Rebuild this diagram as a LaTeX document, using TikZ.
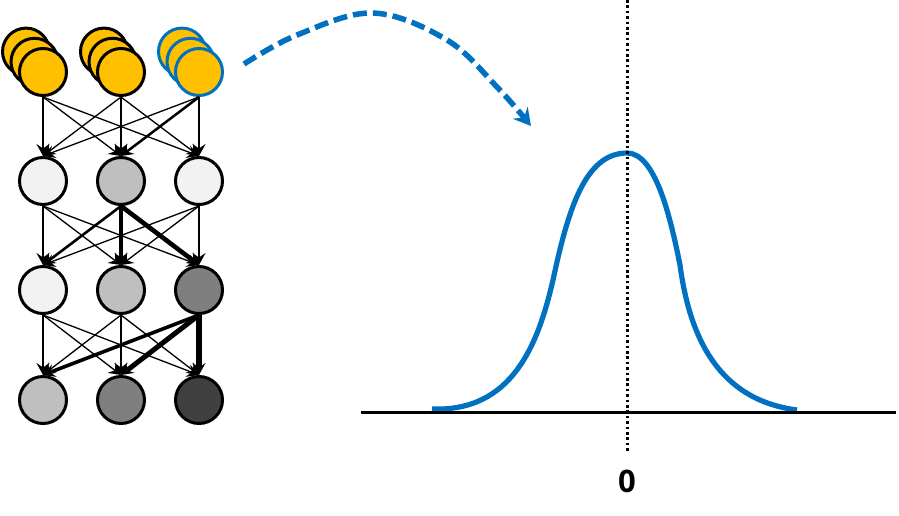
\documentclass[tikz,border=0pt]{standalone}
\usepackage{fontspec}
\setsansfont{Open Sans}
\usetikzlibrary{arrows.meta}
\definecolor{gold}{HTML}{FFC000}
\definecolor{msblue}{HTML}{0070C0}
\definecolor{shadeA}{HTML}{F2F2F2}
\definecolor{shadeB}{HTML}{BFBFBF}
\definecolor{shadeC}{HTML}{7F7F7F}
\definecolor{shadeD}{HTML}{404040}
\tikzset{
  neuron/.style={circle, draw=black, line width=3pt, minimum size=47pt, inner sep=0pt},
  link/.style={-{Stealth[length=12pt,width=13pt,inset=4.5pt]}, line width=#1},
  link/.default=1.3pt,
}
\begin{document}
\begin{tikzpicture}[x=1pt, y=-1pt]
\useasboundingbox (0,0) rectangle (899,515);
% input stacks
\foreach \i/\x/\c in {1/43/black, 2/121/black, 3/199/msblue} {
  \foreach \d in {17, 8.5}
    \node[neuron, fill=gold, draw=\c] at (\x-\d, 72-\d*1.2) {};
  \node[neuron, fill=gold, draw=\c] (in\i) at (\x,72) {};
}
% hidden and output layers
\foreach \r/\y/\fa/\fb/\fc in {1/181/shadeA/shadeB/shadeA, 2/290/shadeA/shadeB/shadeC, 3/400/shadeB/shadeC/shadeD} {
  \node[neuron, fill=\fa] (h\r1) at (43,\y) {};
  \node[neuron, fill=\fb] (h\r2) at (121,\y) {};
  \node[neuron, fill=\fc] (h\r3) at (199,\y) {};
}
% input -> first layer
\foreach \s/\t/\w in {1/1/1.3pt, 1/2/1.3pt, 1/3/1.3pt, 2/1/1.3pt, 2/2/1.3pt, 2/3/1.3pt, 3/1/1.3pt, 3/2/2.5pt, 3/3/2.5pt}
  \draw[link=\w] (in\s.south) -- (h1\t.north);
% first -> second layer
\foreach \s/\t/\w in {1/1/1.3pt, 1/2/1.3pt, 1/3/1.3pt, 2/1/2.6pt, 2/2/3.8pt, 2/3/4.6pt, 3/1/1.3pt, 3/2/1.3pt, 3/3/1.3pt}
  \draw[link=\w] (h1\s.south) -- (h2\t.north);
% second -> third layer
\foreach \s/\t/\w in {1/1/1.3pt, 1/2/1.3pt, 1/3/1.3pt, 2/1/1.3pt, 2/2/1.3pt, 2/3/1.3pt, 3/1/3.6pt, 3/2/5pt, 3/3/6pt}
  \draw[link=\w] (h2\s.south) -- (h3\t.north);

% dashed arrow to the distribution
\draw[msblue, line width=5.5pt, dash pattern=on 14pt off 6pt,
  -{Stealth[length=17pt,width=19pt,inset=6pt]}]
  plot[smooth, tension=0.6] coordinates {(244,64) (297,35) (373,13) (447,40) (497,87) (531,126)};

% distribution
\draw[msblue, line width=5.2pt] (432,409)
  .. controls (512,412) and (538,345) .. (553,280)
  .. controls (568,210) and (585,153) .. (627,153)
  .. controls (655,153) and (670,215) .. (680,265)
  .. controls (690,340) and (720,400) .. (797,410);
\coordinate (top) at (627,0);
\coordinate (bottom) at (627,452);
\coordinate (axisL) at (361,412);
\coordinate (axisR) at (896,412);
\draw[line width=3pt] (axisL) -- (axisR);
\draw[line width=3pt, dash pattern=on 2.6pt off 2.8pt] (top) -- (bottom);
\node[font=\sffamily\bfseries\fontsize{31}{36}\selectfont] (zero) at (627,481) {0};
\end{tikzpicture}
\end{document}
